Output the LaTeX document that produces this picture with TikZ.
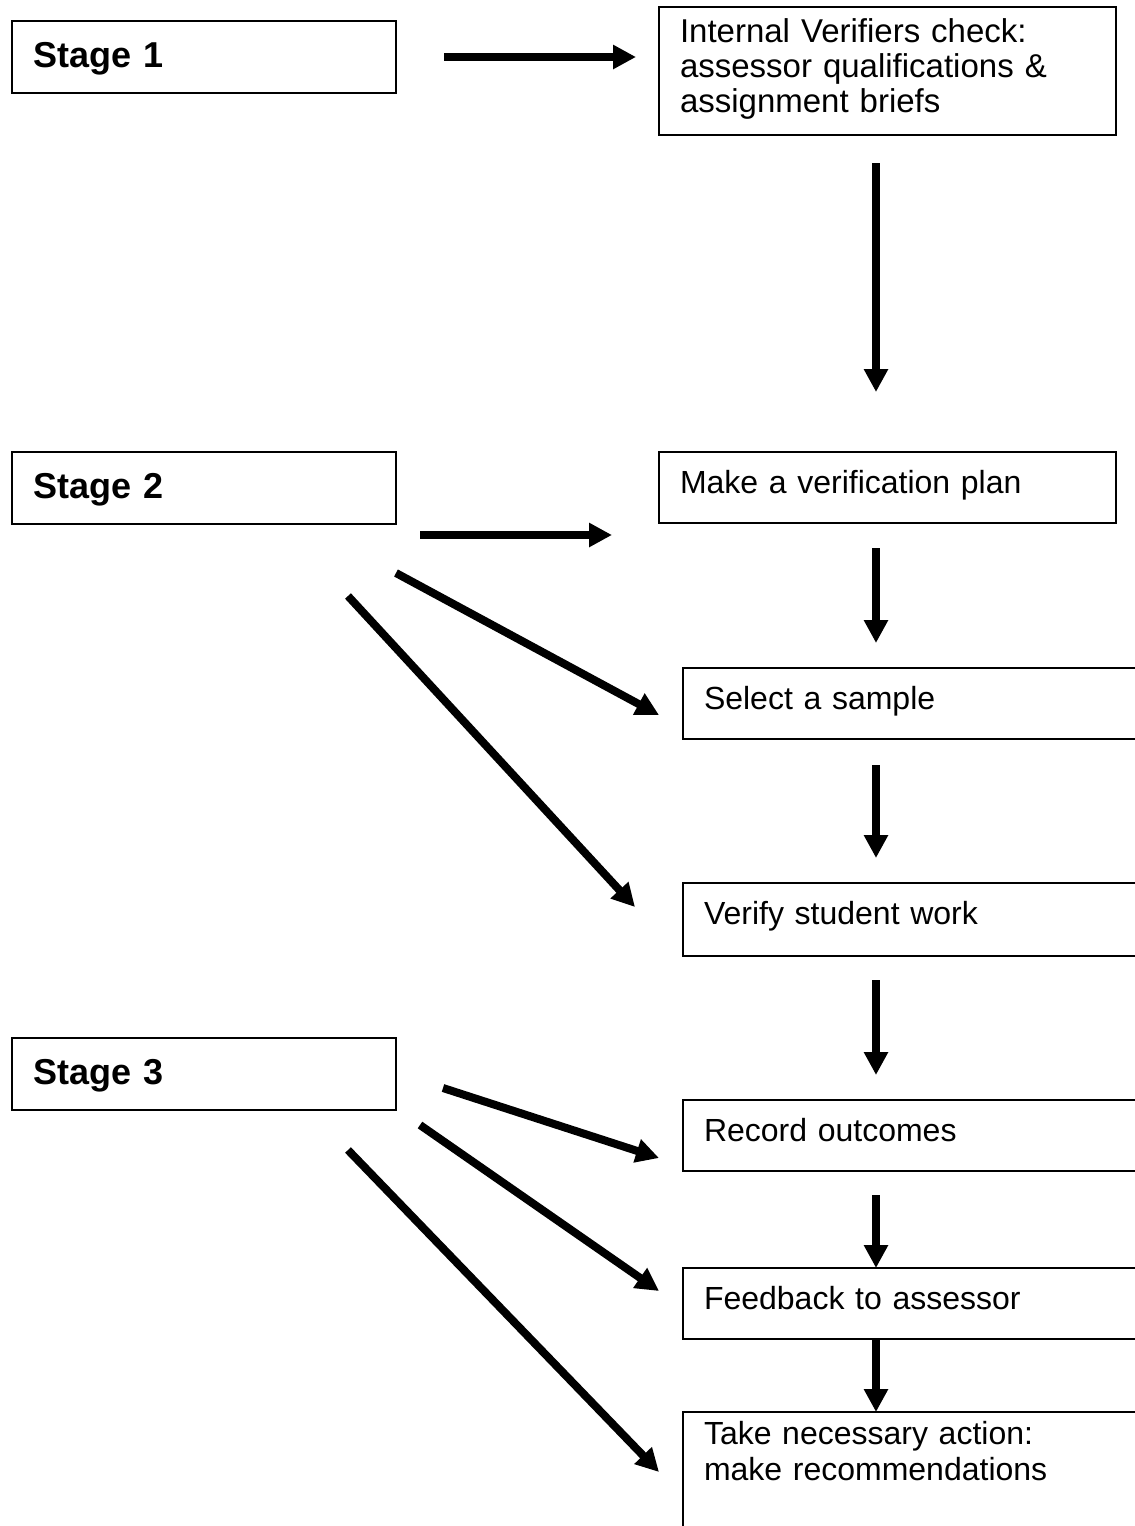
\documentclass[tikz,border=0pt]{standalone}
\usepackage{fontspec}
\setmainfont{Liberation Sans}
\usetikzlibrary{arrows.meta}
\def\px{0.5pt}

\begin{document}
\begin{tikzpicture}[x=\px, y=-\px]
		\tikzstyle{box}=[draw, line width=1pt, anchor=north west, inner xsep=10.5pt, inner ysep=0pt, outer sep=0pt, align=left, font=\fontsize{16}{18}\selectfont]
		\tikzstyle{stage}=[box, text width=171pt, text height=23pt, text depth=13pt, font=\fontsize{18}{20}\selectfont\bfseries]
		\tikzstyle{task}=[box, text width=207.5pt, text height=20.5pt, text depth=15pt]
		\tikzstyle{wide task}=[task, text width=214pt]
		\tikzstyle{flow}=[line width=4pt, -{Triangle[length=11.5pt,width=11.5pt]}]

		\clip (0,0) rectangle (1135,1526);

		% Draw the stage boxes
		\foreach \n/\y in {1/21, 2/452, 3/1038}
		\node[stage] (Stage-\n) at (12,\y) {Stage \n};

		% Draw the task boxes
		\node[task, text height=17.5pt, text depth=46.5pt, font=\fontsize{16.5}{17.5}\selectfont] (IV) at (659,7) {Internal Verifiers check:\\assessor qualifications \&\\assignment briefs};
		\node[task] (Plan) at (659,452) {Make a verification plan};
		\node[wide task] (Sample) at (683,668) {Select a sample};
		\node[wide task, text depth=16pt] (Verify) at (683,883) {Verify student work};
		\node[wide task] (Record) at (683,1100) {Record outcomes};
		\node[wide task] (Feedback) at (683,1268) {Feedback to assessor};
		\node[wide task, text height=16pt, text depth=49pt] (Action) at (683,1412) {Take necessary action:\\make recommendations};

		% Connect the task boxes down the right
		\coordinate (spine) at (876,0);
		\foreach \a/\b/\ga/\gb in {IV/Plan/14/30, Plan/Sample/12.5/12.5, Sample/Verify/13/12.5, Verify/Record/12/12.5, Record/Feedback/12/0, Feedback/Action/0/0}
		\draw[flow, shorten <=\ga pt, shorten >=\gb pt] (\a.south -| spine) -- (\b.north -| spine);

		% Free ends of the stage arrows
		\foreach \n/\x/\y in {a1/444/57, b1/636/57, a2/420/535, b2/612/535, a3/396/573, b3/659/715, a4/348/596, b4/635/907, a5/443/1088, b5/659/1158, a6/420/1125, b6/659/1291, a7/348/1150, b7/659/1472}
		\coordinate (\n) at (\x,\y);
		\foreach \i in {1,...,7}
		\draw[flow] (a\i) -- (b\i);
	\end{tikzpicture}
\end{document}
